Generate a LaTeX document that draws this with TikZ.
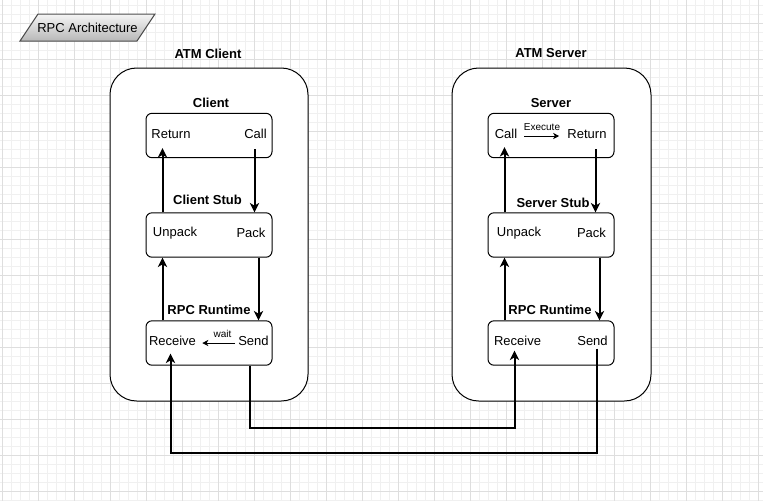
\documentclass[tikz,border=0pt]{standalone}
\usepackage{fontspec}
\setmainfont{Liberation Sans}
\usetikzlibrary{arrows.meta,calc}

\tikzset{
	container/.style={draw, line width=0.75pt, rounded corners=20pt, minimum width=148.5pt, minimum height=249.75pt, inner sep=0pt},
	box/.style={draw, line width=0.75pt, rounded corners=4.5pt, minimum width=94.5pt, minimum height=33.3pt, inner sep=0pt},
	txt/.style={inner sep=0pt, font=\fontsize{9.75}{11}\selectfont},
	lbl/.style={inner sep=0pt, font=\fontsize{9.75}{11}\selectfont\bfseries},
	small/.style={inner sep=0pt, font=\fontsize{7.5}{9}\selectfont},
	flow/.style={line width=1.5pt, -{Stealth[length=7pt,width=7pt,inset=2pt]}},
	thinflow/.style={line width=0.75pt, -{Stealth[length=4.5pt,width=4.5pt,inset=1.2pt]}},
	gridminor/.style={line width=0.5pt, color=black!6},
	gridmajor/.style={line width=0.6pt, color=black!13},
}

\begin{document}
\begin{tikzpicture}[x=0.75pt, y=-0.75pt]
		%%%%% START %%%%%
		\useasboundingbox (0,0) rectangle (763,501);
		
		% grid
		\foreach \gx in {2.7,11.7,...,763} \draw[gridminor] (\gx,0) -- (\gx,501);
		\foreach \gy in {5.3,14.3,...,501} \draw[gridminor] (0,\gy) -- (763,\gy);
		\foreach \gx in {2.7,38.7,...,763} \draw[gridmajor] (\gx,0) -- (\gx,501);
		\foreach \gy in {23.3,59.3,...,501} \draw[gridmajor] (0,\gy) -- (763,\gy);
		
		% title
		\shade[draw=black!70, line width=0.75pt, top color=black!4, bottom color=black!28] (38,14) -- (155,14) -- (137,41) -- (20,41) -- cycle;
		\node[txt] (title) at (87.5,27.5) {RPC Architecture};
		
		% client side
		\node[lbl] (atmclient) at (208,54) {ATM Client};
		\node[container, fill=white] (cbox) at (209,234.5) {};
		
		\node[lbl] (clientlbl) at (211,103) {Client};
		\node[box] (cl) at (209,135.5) {};
		\node[txt] (cret) at (171,134) {Return};
		\node[txt] (ccall) at (255.5,134) {Call};
		
		\node[lbl] (cstublbl) at (207.5,200) {Client Stub};
		\node[box] (cstub) at (209,235) {};
		\node[txt] (cunpack) at (175,233) {Unpack};
		\node[txt] (cpack) at (251,233) {Pack};
		
		\node[lbl] (crtlbl) at (209,310) {RPC Runtime};
		\node[box] (crt) at (209,343) {};
		\node[txt] (crecv) at (172.5,341) {Receive};
		\node[txt] (csend) at (253.5,341) {Send};
		\node[small] (wait) at (222.5,334) {wait};
		
		% server side
		\node[lbl] (atmserver) at (551,53) {ATM Server};
		\node[container, fill=white, minimum width=149.25pt] (sbox) at (551.5,234.5) {};
		
		\node[lbl] (serverlbl) at (551,103) {Server};
		\node[box] (sv) at (551,135.5) {};
		\node[txt] (scall) at (506,134) {Call};
		\node[txt] (sret) at (587,134) {Return};
		\node[small] (execute) at (542,127) {Execute};
		
		\node[lbl] (sstublbl) at (553,203) {Server Stub};
		\node[box] (sstub) at (551,235) {};
		\node[txt] (sunpack) at (519,233) {Unpack};
		\node[txt] (spack) at (591.5,233) {Pack};
		
		\node[lbl] (srtlbl) at (550,310) {RPC Runtime};
		\node[box] (srt) at (551,343) {};
		\node[txt] (srecv) at (517.5,341) {Receive};
		\node[txt] (ssend) at (592.5,341) {Send};
		
		% client arrows
		\draw[flow] ($(cl.south east)+(-18,-9)$) -- ($(cstub.north east)+(-18,0)$);
		\draw[flow] ($(cstub.north west)+(17,0)$) -- ($(cl.south west)+(17,-10)$);
		\draw[flow] ($(cstub.south east)+(-14,0)$) -- ($(crt.north east)+(-14,0)$);
		\draw[flow] ($(crt.north west)+(17,0)$) -- ($(cstub.south west)+(17,0)$);
		\draw[thinflow] ($(csend.west)+(-3,2)$) -- ($(crecv.east)+(6,2)$);
		
		% server arrows
		\draw[thinflow] ($(scall.east)+(7,2)$) -- ($(sret.west)+(-8,2)$);
		\draw[flow] ($(sstub.north west)+(17,0)$) -- ($(sv.south west)+(17,-11)$);
		\draw[flow] ($(sv.south east)+(-19,-9)$) -- ($(sstub.north east)+(-19,0)$);
		\draw[flow] ($(sstub.south east)+(-15,0)$) -- ($(srt.north east)+(-15,0)$);
		\draw[flow] ($(srt.north west)+(17,0)$) -- ($(sstub.south west)+(17,0)$);
		
		% network
		\draw[flow] ($(crt.south east)+(-23,0)$) -- ++(0,62) -| ($(srt.south west)+(27,-15)$);
		\draw[flow] ($(srt.south east)+(-18,-17)$) -- ++(0,104) -| ($(crt.south west)+(25,-12)$);
		
		%%%%% END %%%%%
\end{tikzpicture}
\end{document}
